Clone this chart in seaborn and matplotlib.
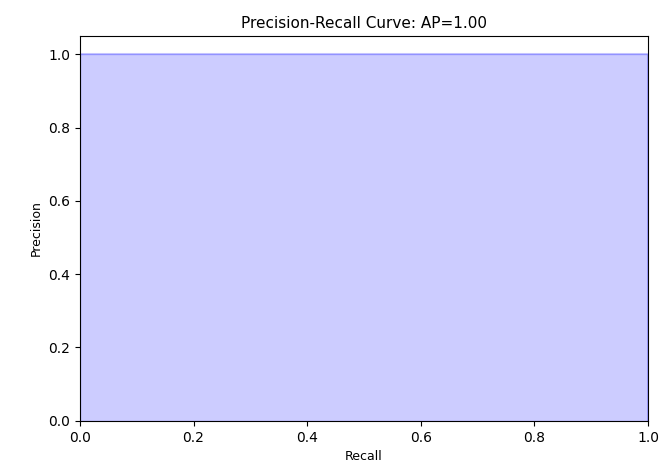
import matplotlib
matplotlib.use("Agg")
import matplotlib.pyplot as plt
import seaborn as sns
import pandas as pd

# precision-recall points (perfect classifier)
recall = [1.0, 1.0, 0.0]
precision = [0.0, 1.0, 1.0]
average_precision = 1.00

data = pd.DataFrame({"Recall": recall, "Precision": precision})

fig = plt.figure(figsize=(6.6, 4.66), dpi=100)
ax = fig.add_axes([0.121, 0.097, 0.861, 0.826])

sns.lineplot(x="Recall", y="Precision", data=data, sort=False, estimator=None,
             drawstyle="steps-post", color="b", alpha=0.2, ax=ax)
ax.fill_between(data["Recall"], data["Precision"], step="post", alpha=0.2, color="b")

ax.set_xlabel("Recall", fontsize=9)
ax.set_ylabel("Precision", fontsize=9)
ax.set_ylim([0.0, 1.05])
ax.set_xlim([0.0, 1.0])
ax.set_title("Precision-Recall Curve: AP={0:0.2f}".format(average_precision), fontsize=11)

plt.savefig("out.png", dpi=100)
